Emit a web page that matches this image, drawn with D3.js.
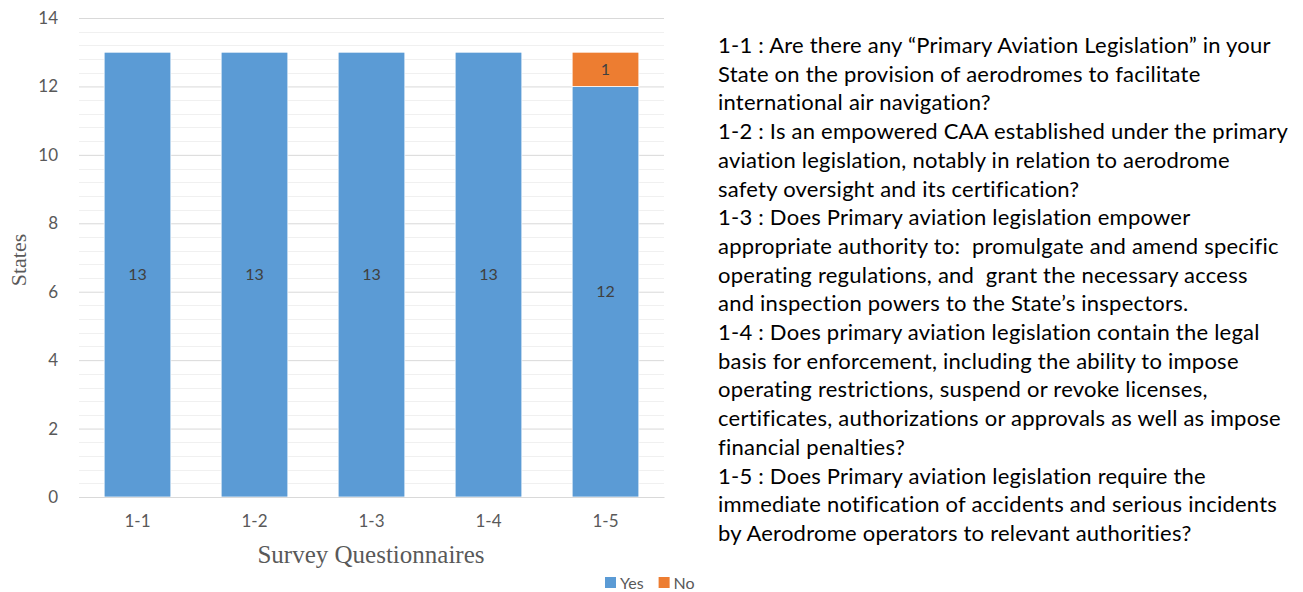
<!DOCTYPE html>
<html>
<head>
<meta charset="utf-8">
<script src="https://cdn.jsdelivr.net/npm/d3@7"></script>
<style>
  body { margin: 0; background: #fff; }
  svg { display: block; }
</style>
</head>
<body>
<svg width="1303" height="592"></svg>
<script>
var categories = ["1-1", "1-2", "1-3", "1-4", "1-5"];
var yesValues = [13, 13, 13, 13, 12];
var noValues = [0, 0, 0, 0, 1];
var seriesNames = ["Yes", "No"];
var yTicks = [0, 2, 4, 6, 8, 10, 12, 14];
var notes = [
  "1-1 : Are there any \u201cPrimary Aviation Legislation\u201d in your",
  "State on the provision of aerodromes to facilitate",
  "international air navigation?",
  "1-2 : Is an empowered CAA established under the primary",
  "aviation legislation, notably in relation to aerodrome",
  "safety oversight and its certification?",
  "1-3 : Does Primary aviation legislation empower",
  "appropriate authority to:\u00a0 promulgate and amend specific",
  "operating regulations, and\u00a0 grant the necessary access",
  "and inspection powers to the State\u2019s inspectors.",
  "1-4 : Does primary aviation legislation contain the legal",
  "basis for enforcement, including the ability to impose",
  "operating restrictions, suspend or revoke licenses,",
  "certificates, authorizations or approvals as well as impose",
  "financial penalties?",
  "1-5 : Does Primary aviation legislation require the",
  "immediate notification of accidents and serious incidents",
  "by Aerodrome operators to relevant authorities?"
];

draw();

function draw() {
  var colors = { Yes: "#5B9BD5", No: "#ED7D31" };
  var svg = d3.select("svg");
  var mLeft = 79, mRight = 664, mTop = 18, mBottom = 497;

  var x = d3.scaleBand().domain(categories).range([mLeft, mRight]).paddingInner(0.43).paddingOuter(0.215);
  var y = d3.scaleLinear().domain([0, 14]).range([mBottom, mTop]);

  // minor gridlines
  var minor = d3.range(0, 14.01, 0.4).filter(function(v) { return Math.abs(v / 2 - Math.round(v / 2)) > 0.01; });
  svg.append("g").selectAll("line").data(minor).enter().append("line")
    .attr("x1", mLeft).attr("x2", mRight)
    .attr("y1", function(d) { return Math.round(y(d)) + 0.5; })
    .attr("y2", function(d) { return Math.round(y(d)) + 0.5; })
    .attr("stroke", "#f0f0f0").attr("stroke-width", 1);

  // major gridlines + y axis labels
  var yAxis = d3.axisLeft(y).tickValues(yTicks).tickSize(-(mRight - mLeft)).tickPadding(21);
  var ya = svg.append("g").attr("transform", "translate(" + mLeft + ",0)").call(yAxis);
  ya.select(".domain").remove();
  ya.selectAll(".tick line").attr("stroke", "#d9d9d9");
  ya.selectAll(".tick text").attr("fill", "#595959").style("font-family", "Lato, 'Open Sans', sans-serif").style("font-size", "17px");

  var stack = categories.map(function(c, i) { return { cat: c, Yes: yesValues[i], No: noValues[i] }; });
  var series = d3.stack().keys(seriesNames)(stack);

  var g = svg.append("g");
  series.forEach(function(s) {
    var segs = s.filter(function(d) { return d[1] - d[0] > 0; });
    g.selectAll(".bar-" + s.key).data(segs).enter().append("rect")
      .attr("x", function(d) { return x(d.data.cat); })
      .attr("width", x.bandwidth())
      .attr("y", function(d) { return y(d[1]); })
      .attr("height", function(d) { return y(d[0]) - y(d[1]); })
      .attr("fill", colors[s.key])
      .attr("stroke", "#ffffff").attr("stroke-width", 0.75);
    g.selectAll(".lab-" + s.key).data(segs).enter().append("text")
      .attr("x", function(d) { return x(d.data.cat) + x.bandwidth() / 2; })
      .attr("y", function(d) { return y((d[0] + d[1]) / 2); })
      .attr("dy", "0.35em")
      .attr("text-anchor", "middle")
      .attr("fill", "#404040")
      .style("font-family", "Lato, 'Open Sans', sans-serif").style("font-size", "16px")
      .text(function(d) { return d[1] - d[0]; });
  });

  // x axis
  var xa = svg.append("g").attr("transform", "translate(0," + mBottom + ")")
    .call(d3.axisBottom(x).tickSize(0).tickPadding(18));
  xa.select(".domain").attr("stroke", "#d9d9d9");
  xa.selectAll(".tick text").attr("fill", "#595959").style("font-family", "Lato, 'Open Sans', sans-serif").style("font-size", "17px");

  // axis titles
  svg.append("text").attr("transform", "translate(26,260) rotate(-90)")
    .attr("text-anchor", "middle").attr("fill", "#595959")
    .style("font-family", "'Liberation Serif', 'DejaVu Serif', serif").style("font-size", "22px")
    .text("States");
  svg.append("text").attr("x", 371).attr("y", 563)
    .attr("text-anchor", "middle").attr("fill", "#595959")
    .style("font-family", "'Liberation Serif', 'DejaVu Serif', serif").style("font-size", "25px")
    .text("Survey Questionnaires");

  // legend
  var lg = svg.append("g").attr("transform", "translate(605,583)");
  var lx = 0;
  seriesNames.forEach(function(n) {
    lg.append("rect").attr("x", lx).attr("y", -6).attr("width", 11).attr("height", 11).attr("fill", colors[n]);
    var t = lg.append("text").attr("x", lx + 15).attr("y", 0).attr("dy", "0.35em")
      .attr("fill", "#595959").style("font-family", "Lato, 'Open Sans', sans-serif").style("font-size", "16px").text(n);
    lx += 15 + t.node().getComputedTextLength() + 15;
  });

  // notes
  var nt = svg.append("g");
  nt.selectAll("text").data(notes).enter().append("text")
    .attr("x", 718)
    .attr("y", function(d, i) { return 53 + i * 28.7; })
    .attr("fill", "#000")
    .style("font-family", "Lato, 'Open Sans', sans-serif").style("font-size", "22px")
    .text(function(d) { return d; });
  var widest = null, maxW = 0;
  nt.selectAll("text").each(function() {
    var w = this.getComputedTextLength();
    if (w > maxW) { maxW = w; widest = this; }
  });
  var ls = (570 - maxW) / widest.textContent.length;
  nt.selectAll("text").style("letter-spacing", ls + "px");
}
</script>
</body>
</html>
